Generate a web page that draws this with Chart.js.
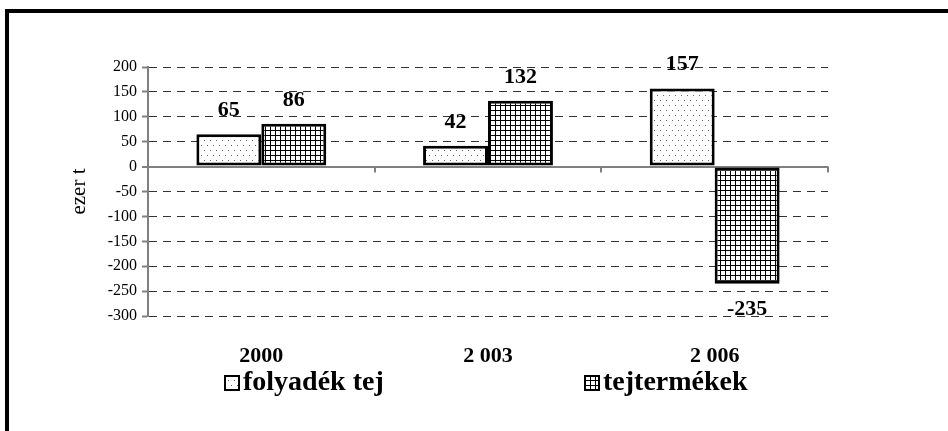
<!DOCTYPE html>
<html>
<head>
<meta charset="utf-8">
<script src="https://cdn.jsdelivr.net/npm/chart.js@4/dist/chart.umd.min.js"></script>
<style>
  html, body { margin: 0; padding: 0; background: #fff; }
  #wrap { position: relative; width: 948px; height: 431px; }
  #frame { position: absolute; left: 5px; top: 9px; right: 0; bottom: 0;
           border-top: 4px solid #000; border-left: 4px solid #000; pointer-events: none; }
</style>
</head>
<body>
<div id="wrap">
  <canvas id="myChart" width="948" height="431"></canvas>
  <div id="frame"></div>
</div>
<script>
// adatok
const years = ['2000', '2 003', '2 006'];
const folyadekTej = [65, 42, 157];
const tejtermekek = [86, 132, -235];
const yTicks = [200, 150, 100, 50, 0, -50, -100, -150, -200, -250, -300];

const SERIF = '"Liberation Serif", "Times New Roman", serif';

function dotPattern() {
    const c = document.createElement('canvas');
    c.width = 6; c.height = 10;
    const g = c.getContext('2d');
    g.fillStyle = '#fff';
    g.fillRect(0, 0, 6, 10);
    g.fillStyle = '#666';
    g.fillRect(0, 0, 1, 1);
    g.fillRect(3, 5, 1, 1);
    return g.createPattern(c, 'repeat');
}

function gridPattern() {
    const c = document.createElement('canvas');
    c.width = 5; c.height = 5;
    const g = c.getContext('2d');
    g.fillStyle = '#fff';
    g.fillRect(0, 0, 5, 5);
    g.fillStyle = '#000';
    g.fillRect(0, 0, 5, 1);
    g.fillRect(0, 0, 1, 5);
    return g.createPattern(c, 'repeat');
}

const dots = dotPattern();
const grid = gridPattern();

// ertek feliratok a oszlopok folott / alatt
const valueLabels = {
    id: 'valueLabels',
    afterDatasetsDraw(chart) {
        const ctx = chart.ctx;
        ctx.save();
        ctx.font = 'bold 22px ' + SERIF;
        ctx.fillStyle = '#000';
        ctx.textAlign = 'center';
        ctx.textBaseline = 'alphabetic';
        chart.data.datasets.forEach((ds, di) => {
            chart.getDatasetMeta(di).data.forEach((bar, i) => {
                const v = ds.data[i];
                if (v >= 0) {
                    ctx.fillText(v, bar.x, bar.y - 18);
                } else {
                    ctx.fillText(v, bar.x, bar.y + 31);
                }
            });
        });
        ctx.restore();
    }
};

// kategoria hatar jelolok a 0 vonalon
const zeroTicks = {
    id: 'zeroTicks',
    afterDraw(chart) {
        const ctx = chart.ctx;
        const xs = chart.scales.x;
        const y0 = chart.scales.y.getPixelForValue(0);
        const w = (xs.right - xs.left) / years.length;
        ctx.save();
        ctx.strokeStyle = '#808080';
        ctx.lineWidth = 2;
        for (let i = 1; i <= years.length; i++) {
            const x = Math.round(xs.left + w * i);
            ctx.beginPath();
            ctx.moveTo(x, y0);
            ctx.lineTo(x, y0 + 6);
            ctx.stroke();
        }
        ctx.restore();
    }
};

// jelmagyarazat
const legendBoxes = {
    id: 'legendBoxes',
    afterDraw(chart) {
        const ctx = chart.ctx;
        const pos = [224, 584];
        ctx.save();
        ctx.font = 'bold 28px ' + SERIF;
        ctx.textBaseline = 'alphabetic';
        chart.data.datasets.forEach((ds, i) => {
            const x = pos[i];
            ctx.fillStyle = ds.backgroundColor;
            ctx.fillRect(x, 375, 15, 15);
            ctx.strokeStyle = '#000';
            ctx.lineWidth = 2;
            ctx.strokeRect(x + 1, 376, 14, 14);
            ctx.fillStyle = '#000';
            ctx.fillText(ds.label, x + 19, 390);
        });
        ctx.restore();
    }
};

const ctx = document.getElementById('myChart').getContext('2d');
const myChart = new Chart(ctx, {
    type: 'bar',
    data: {
        labels: years,
        datasets: [{
            label: 'folyadék tej',
            data: folyadekTej,
            backgroundColor: dots,
            borderColor: '#000',
            borderWidth: 3,
            borderSkipped: false
        }, {
            label: 'tejtermékek',
            data: tejtermekek,
            backgroundColor: grid,
            borderColor: '#000',
            borderWidth: 3,
            borderSkipped: false
        }]
    },
    options: {
        responsive: false,
        animation: false,
        events: [],
        layout: { padding: { left: 60, right: 120, top: 67, bottom: 0 } },
        categoryPercentage: 0.573,
        barPercentage: 1,
        plugins: {
            legend: { display: false },
            tooltip: { enabled: false }
        },
        scales: {
            x: {
                grid: { display: false },
                border: { display: false },
                ticks: {
                    color: '#000',
                    font: { family: SERIF, size: 22, weight: 'bold' },
                    padding: 19
                },
                afterFit: s => { s.height = 115; }
            },
            y: {
                min: -300,
                max: 200,
                afterBuildTicks: s => { s.ticks = yTicks.map(v => ({ value: v })); },
                ticks: {
                    color: '#000',
                    font: { family: SERIF, size: 16 },
                    padding: 5
                },
                grid: {
                    color: c => c.tick && c.tick.value === 0 ? '#808080' : '#333',
                    lineWidth: c => c.tick && c.tick.value === 0 ? 2 : 1,
                    tickColor: '#808080',
                    tickLength: 6,
                    tickWidth: 2
                },
                border: {
                    color: '#808080',
                    width: 2,
                    dash: c => c.tick && c.tick.value === 0 ? [] : [8, 6]
                },
                title: {
                    display: true,
                    text: 'ezer t',
                    color: '#000',
                    font: { family: SERIF, size: 21 },
                    padding: { top: 7, bottom: 0 }
                },
                afterFit: s => { s.width = 88; }
            }
        }
    },
    plugins: [valueLabels, zeroTicks, legendBoxes]
});
</script>
</body>
</html>
